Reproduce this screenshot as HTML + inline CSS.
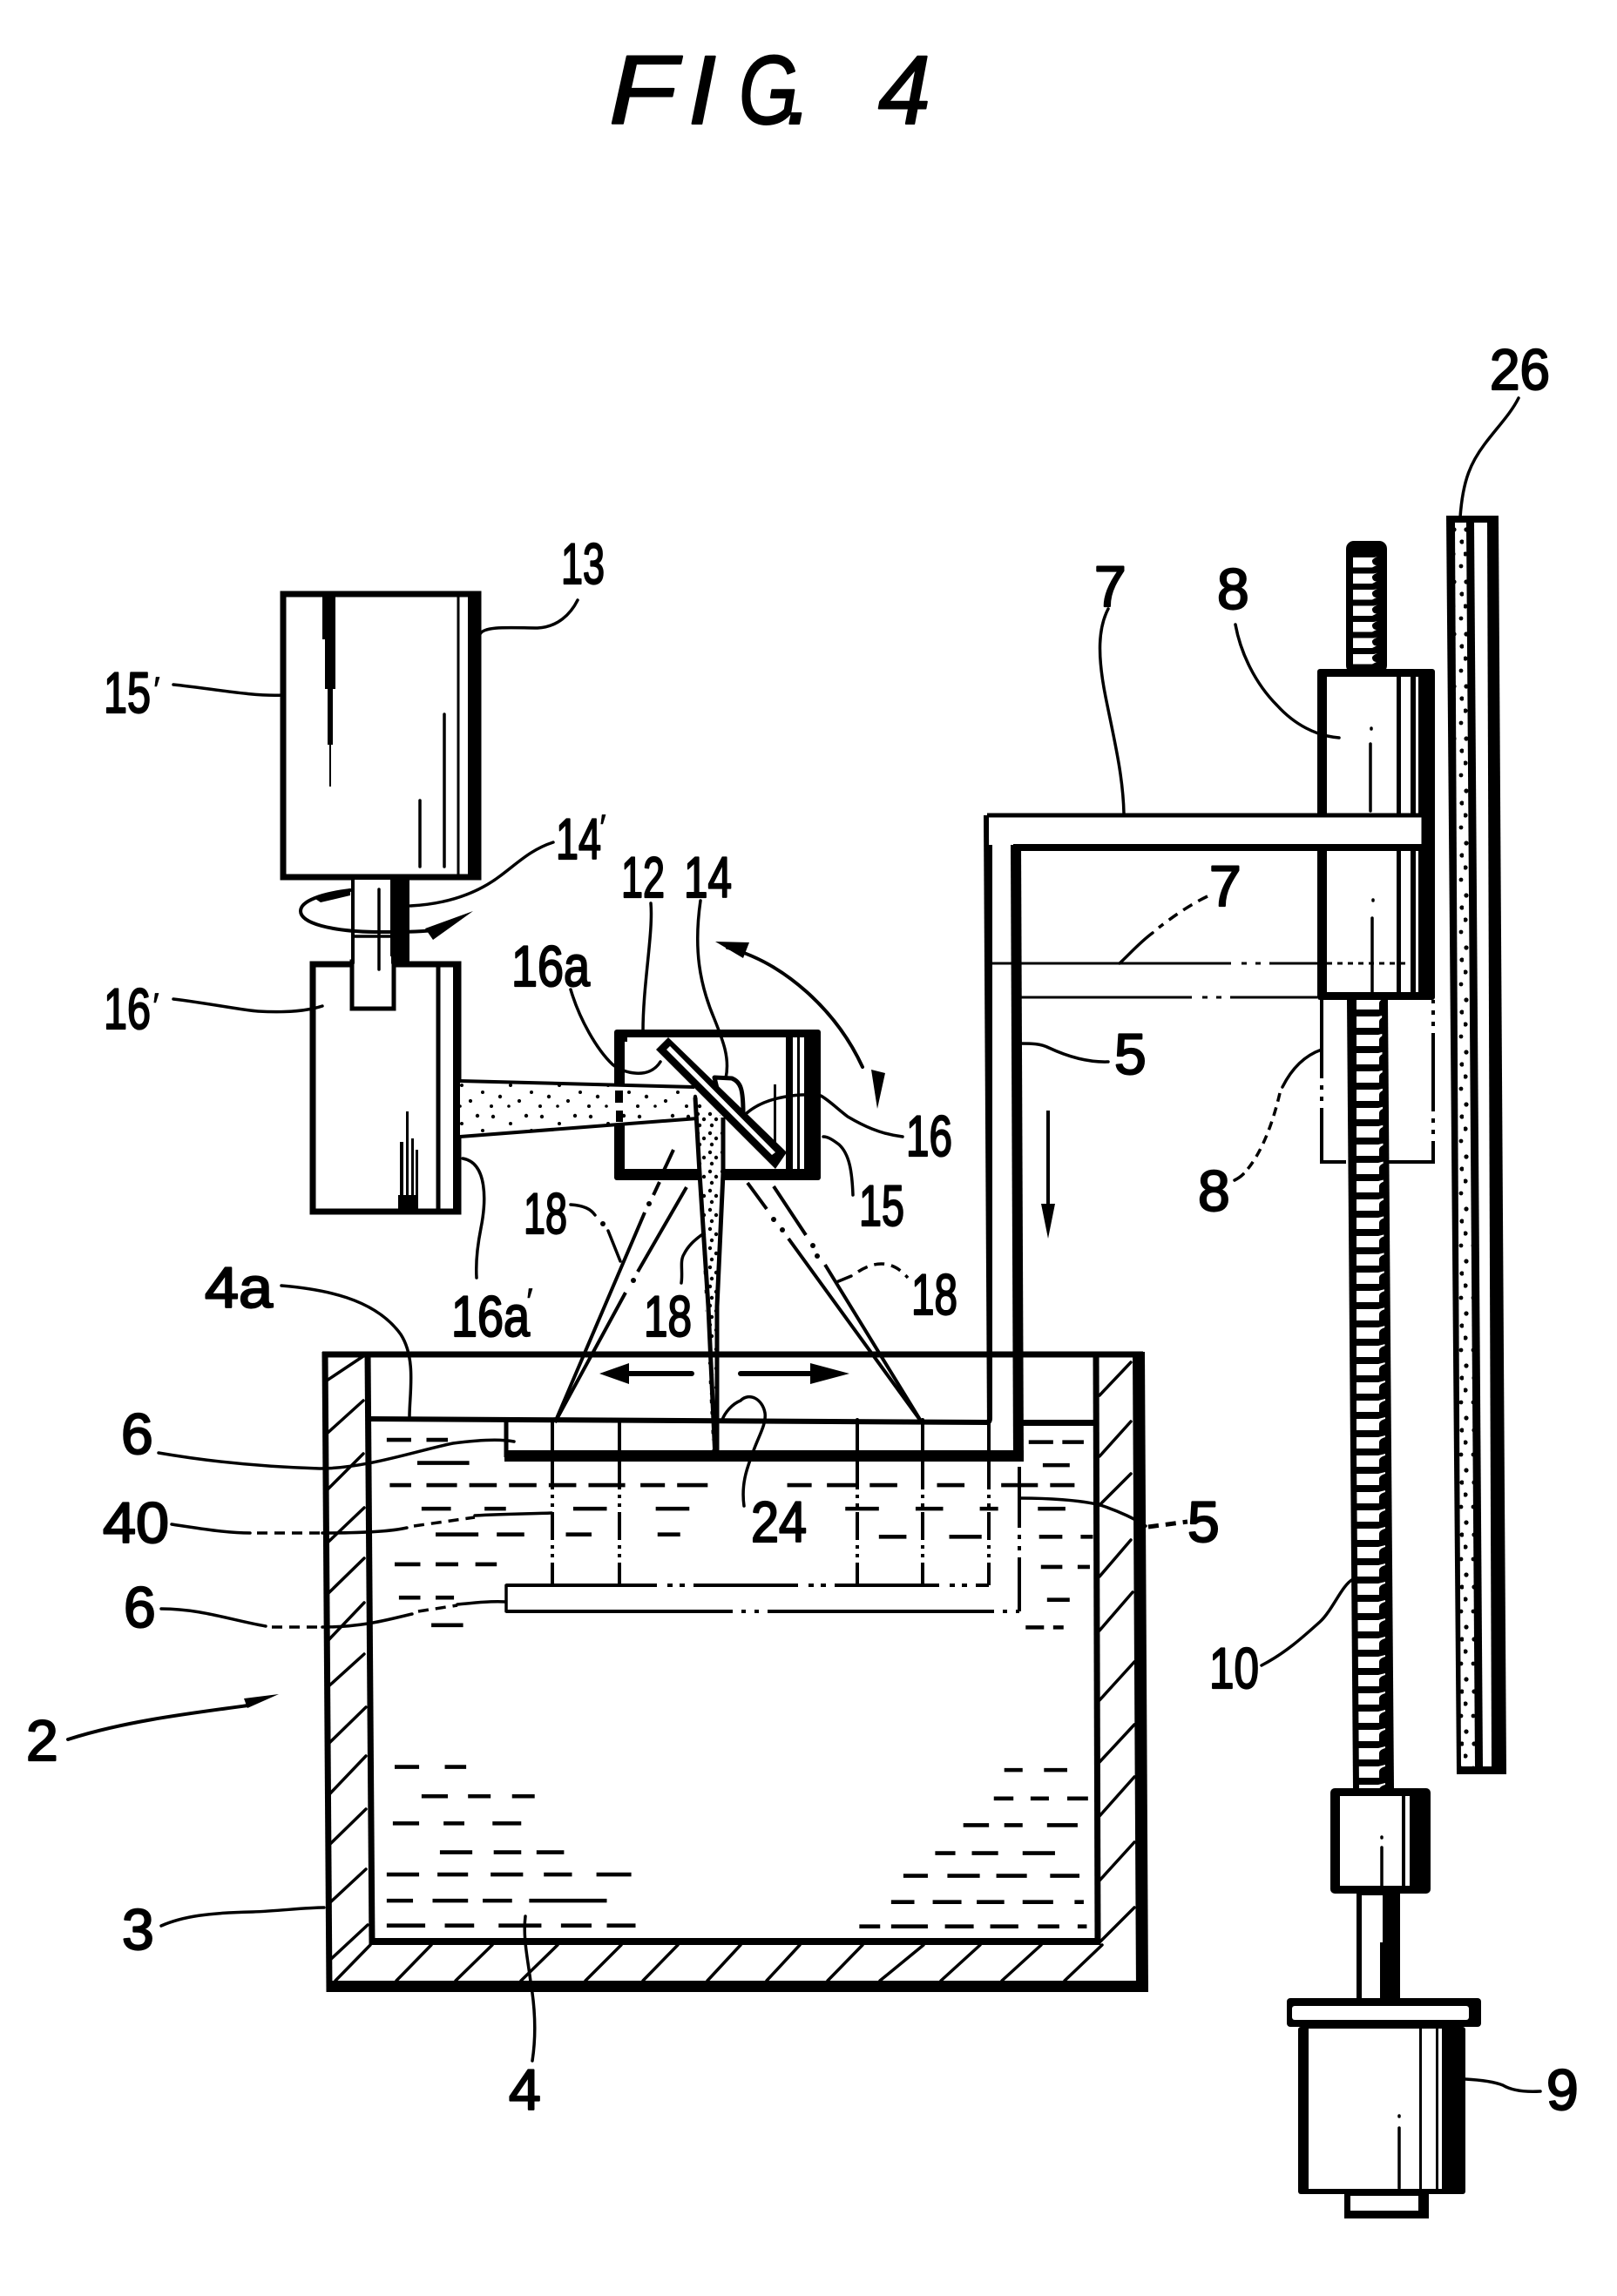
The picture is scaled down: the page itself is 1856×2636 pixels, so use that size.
<!DOCTYPE html>
<html><head><meta charset="utf-8"><title>FIG. 4</title>
<style>
html,body{margin:0;padding:0;background:#fff}
svg{display:block}
text{font-family:"Liberation Sans",sans-serif;font-size:66px;fill:#000;stroke:#000;stroke-width:2.2;stroke-linejoin:round}
.t{font-size:112px;font-style:italic;stroke-width:2}
.p{font-size:42px;stroke-width:.5}
.l{fill:none;stroke:#000;stroke-width:3.5;stroke-linecap:round;stroke-linejoin:round}
.m{fill:none;stroke:#000;stroke-width:6;stroke-linecap:round;stroke-linejoin:round}
.c{fill:none;stroke:#000;stroke-width:4;stroke-dasharray:70 10 5 10 5 10}
.d{fill:none;stroke:#000;stroke-width:3.5;stroke-dasharray:12 8}
.b{fill:#000;stroke:none}
.w{fill:#fff;stroke:none}
</style></head><body>
<svg xmlns="http://www.w3.org/2000/svg" width="1856" height="2636" viewBox="0 0 1856 2636">
<defs>
<pattern id="thr0" patternUnits="userSpaceOnUse" x="1553" y="639" width="60" height="18.5">
<rect width="60" height="18.5" fill="#000"/><path d="M0 1H24L28 0Q21 3 22 6Q23 10 27 10L22 12.5H0Z" fill="#fff"/>
</pattern>
<pattern id="thr" patternUnits="userSpaceOnUse" x="1557" y="640" width="60" height="21">
<rect width="60" height="21" fill="#000"/><path d="M0 2H25L33 0V2Q26 4 26 8V15H0Z" fill="#fff"/>
</pattern>
<pattern id="dots" patternUnits="userSpaceOnUse" width="56" height="44">
<rect width="56" height="44" fill="#fff"/>
<g fill="#000"><circle cx="6" cy="6" r="2.2"/><circle cx="26" cy="14" r="2"/><circle cx="44" cy="5" r="2.2"/><circle cx="14" cy="27" r="2.2"/><circle cx="36" cy="32" r="2.1"/><circle cx="50" cy="22" r="2"/><circle cx="4" cy="38" r="2"/><circle cx="24" cy="38" r="1.8"/></g>
</pattern>
<pattern id="dots2" patternUnits="userSpaceOnUse" width="14" height="60">
<rect width="14" height="60" fill="#fff"/>
<g fill="#000"><circle cx="3" cy="8" r="2.6"/><circle cx="12" cy="22" r="2.6"/><circle cx="2" cy="36" r="2.6"/><circle cx="11" cy="50" r="2.4"/></g>
</pattern>
<pattern id="dots3" patternUnits="userSpaceOnUse" width="14" height="22">
<rect width="14" height="22" fill="#fff"/>
<g fill="#000"><circle cx="3" cy="3" r="2.2"/><circle cx="10" cy="9" r="2.2"/><circle cx="5" cy="16" r="2.2"/></g>
</pattern>
</defs>

<!-- title -->
<text class="t" x="699" y="142" textLength="78" lengthAdjust="spacingAndGlyphs">F</text>
<text class="t" x="790" y="142" textLength="32" lengthAdjust="spacingAndGlyphs">I</text>
<text class="t" x="848" y="142" textLength="68" lengthAdjust="spacingAndGlyphs">G</text>
<text class="t" x="902" y="142">.</text>
<text class="t" x="1008" y="142" textLength="60" lengthAdjust="spacingAndGlyphs">4</text>

<!-- motor 13 -->
<rect x="325" y="682" width="224" height="325" fill="#fff" stroke="#000" stroke-width="7"/>
<rect class="b" x="537" y="680" width="14" height="328"/>
<path class="l" d="M526 682V1006" style="stroke-width:3"/>
<path class="b" d="M370 683H385V791H382V855H380V903H378V855H376V791H373V734H370Z"/>
<path class="l" d="M482 919V995M510 820V995"/>
<!-- shaft -->
<rect x="405" y="1008" width="63" height="96" fill="#fff" stroke="#000" stroke-width="4"/>
<rect class="b" x="448" y="1008" width="20" height="96"/>
<!-- box 16' -->
<rect x="359" y="1107" width="167" height="284" fill="#fff" stroke="#000" stroke-width="7"/>
<rect class="b" x="520" y="1104" width="8" height="290"/>
<path class="l" d="M503 1106V1388" style="stroke-width:5"/>
<path class="b" d="M459 1311h4v70h-4zM466 1276h3v105h-3zM472 1307h3v74h-3zM477 1320h3v61h-3zM457 1372h23v16h-23z"/>
<rect x="404" y="1104" width="48" height="54" fill="#fff" stroke="#000" stroke-width="5"/>
<rect class="w" x="407" y="1098" width="42" height="12"/>
<path class="l" d="M405 1075H448M435 1021V1113"/>
<!-- rotation arrow -->
<path class="m" d="M402 1022C370 1026 345 1034 345 1046C345 1060 380 1069 430 1070C460 1070 480 1070 497 1068" style="stroke-width:4"/>
<path class="b" d="M359 1030L402 1020V1028L368 1036ZM543 1046L497 1079L488 1066Z"/>

<!-- box 12 -->
<rect class="b" x="705" y="1182" width="237" height="173" rx="3"/>
<rect class="w" x="717" y="1191" width="206" height="151"/>
<path class="b" d="M902 1191h8v151h-8zM915 1191h3v151h-3zM888 1245h3v90h-3z"/>
<!-- beam -->
<path d="M650 1245" fill="none"/>
<path d="M528 1241L797 1248L827 1282L528 1305Z" fill="url(#dots)" stroke="none"/>
<path class="m" d="M528 1241L797 1248M528 1305L827 1282" style="stroke-width:4;stroke-linecap:butt"/>
<path class="b" d="M706 1252h9v14h-9zM707 1275h8v13h-8zM716 1190h4v6h-4z"/>
<!-- cone -->
<path d="M798 1260L830 1283L823 1675L818 1675Z" fill="url(#dots3)" stroke="none"/>
<path class="m" d="M798 1260L803 1347L813 1500L821 1675M830 1283V1347L823 1500L823 1675" style="stroke-width:5;stroke-linecap:butt"/>
<!-- mirror -->
<path d="M820 1237L840 1238C850 1242 853 1250 853 1277L826 1262Z" fill="#fff" stroke="#000" stroke-width="5" stroke-linejoin="round"/>
<path class="b" d="M753 1205L767 1191L903 1323L890 1342Z"/>
<path class="w" d="M765 1205L769 1201L890 1323L886 1326Z"/>
<path class="m" d="M753 1205Q758 1222 768 1226" style="stroke-width:0"/>

<!-- scan rays -->
<path class="m" d="M773 1320L760 1348M757 1357L750 1372M740 1392L637 1633" style="stroke-width:4;stroke-linecap:butt"/>
<path class="m" d="M788 1363L732 1460M718 1484L637 1633" style="stroke-width:4;stroke-linecap:butt"/>
<path class="m" d="M858 1358L880 1388M905 1422L1058 1633" style="stroke-width:4;stroke-linecap:butt"/>
<path class="m" d="M888 1362L925 1418M947 1452L1058 1633" style="stroke-width:4;stroke-linecap:butt"/>
<g fill="#000"><circle cx="745" cy="1382" r="3"/><circle cx="727" cy="1470" r="3"/><circle cx="888" cy="1400" r="3"/><circle cx="898" cy="1412" r="3"/><circle cx="933" cy="1430" r="3"/><circle cx="938" cy="1442" r="3"/></g>
<!-- small arrows -->
<path class="m" d="M710 1577H794M850 1577H930" style="stroke-width:6"/>
<path class="b" d="M688 1577L722 1565V1589ZM975 1577L930 1565V1589Z"/>

<!-- tank -->
<path class="m" d="M370 1555H1312" style="stroke-width:7;stroke-linecap:butt"/>
<path class="m" d="M373 1552L378 2287" style="stroke-width:7;stroke-linecap:butt"/>
<path class="m" d="M422 1552L427 2233" style="stroke-width:7;stroke-linecap:butt"/>
<path class="m" d="M1258 1552L1260 2233" style="stroke-width:7;stroke-linecap:butt"/>
<path class="b" d="M1300 1552H1314L1318 2287H1304Z"/>
<rect class="b" x="376" y="2274" width="942" height="13"/>
<rect class="b" x="424" y="2225" width="838" height="8"/>
<!-- hatching -->
<path class="l" d="M375 1585L417 1557M375 1646L417 1608M376 1710L417 1669M376 1771L418 1731M376 1830L418 1789M376 1884L418 1840M376 1937L418 1899M378 2001L420 1960M378 2060L420 2016M378 2118L420 2077M378 2185L420 2146M379 2250L422 2210"/>
<path class="l" d="M1262 1602L1298 1564M1262 1672L1298 1632M1262 1728L1298 1692M1262 1810L1298 1768M1262 1872L1300 1828M1262 1952L1302 1908M1262 2023L1302 1980M1262 2085L1302 2040M1262 2159L1302 2115M1262 2230L1302 2190"/>
<path class="l" d="M385 2274L425 2233M455 2274L495 2233M523 2274L565 2233M598 2274L640 2233M672 2274L713 2233M738 2274L778 2233M812 2274L850 2233M880 2274L918 2233M950 2274L990 2233M1010 2274L1060 2233M1080 2274L1125 2233M1150 2274L1195 2233M1222 2274L1265 2233"/>

<!-- level + platform + arm -->
<path class="m" d="M425 1629L1133 1633Q1136 1633 1136 1628V936" style="stroke-width:6;stroke-linecap:butt"/>
<rect class="b" x="1174" y="1630" width="84" height="7"/>
<path class="m" d="M581 1629V1673" style="stroke-width:5;stroke-linecap:butt"/>
<rect class="b" x="579" y="1665" width="596" height="13"/>
<path class="b" d="M1160 967H1172L1175 1678H1163Z"/>
<path class="l" d="M634 1630V1668M711 1630V1668M984 1630V1668M1059 1630V1668M1135 1630V1668" style="stroke-width:4"/>
<!-- phantom -->
<path class="c" style="stroke-dasharray:32 6 4 6 4 6" d="M634 1678V1820M711 1678V1820M984 1678V1820M1059 1678V1820M1135 1678V1820"/>
<path class="c" style="stroke-dasharray:120 12 6 8 6 10" d="M634 1820H1135M581 1820H634"/>
<path class="c" style="stroke-dasharray:260 10 5 10 5 10" d="M581 1850H1170"/>
<path class="l" d="M581 1820V1850"/>
<path class="c" style="stroke-dasharray:70 8 5 8 5 8" d="M1170 1684V1850"/>

<!-- liquid dashes -->
<g transform="translate(300,1500) scale(.7018,.5102)" fill="none" stroke="#000" stroke-width="9">
<path d="M205 300H245M270 300H305M255 352H340M210 402H245M270 402H320M340 402H385M405 402H450M470 402H515M535 402H595M620 402H660M680 402H730M860 402H900M925 402H975M995 402H1040M1105 402H1150M1210 402H1270M1290 402H1330M262 455H310M365 455H400M510 455H565M645 455H700M955 455H1010M1070 455H1115M1175 455H1205M1270 455H1315M285 513H355M385 513H430M498 513H540M648 513H685M1010 518H1055M1125 518H1178M1272 518H1310M1340 518H1360M218 580H260M285 580H322M350 580H385M1275 586H1310M1335 586H1355M225 655H260M285 655H315M1285 660H1322M278 717H330M1250 722H1280M1295 722H1312M1255 305H1295M1310 305H1345M1278 357H1322"/>
<path d="M218 1036H258M300 1036H335M262 1102H305M338 1102H375M410 1102H447M215 1163H258M298 1163H332M378 1163H425M292 1228H345M380 1228H425M450 1228H495M205 1278H258M288 1278H338M375 1278H428M462 1278H508M548 1278H605M205 1337H248M280 1337H338M362 1337H410M438 1337H565M205 1393H268M300 1393H348M388 1393H458M490 1393H540M565 1393H612"/>
<path d="M1215 1043H1245M1280 1043H1318M1198 1107H1230M1258 1107H1288M1318 1107H1352M1148 1167H1190M1215 1167H1245M1285 1167H1335M1102 1230H1135M1162 1230H1205M1245 1230H1298M1050 1281H1090M1122 1281H1175M1202 1281H1252M1290 1281H1338M1030 1340H1068M1098 1340H1145M1170 1340H1215M1245 1340H1295M1330 1340H1345M978 1395H1012M1030 1395H1090M1118 1395H1165M1192 1395H1238M1270 1395H1305M1335 1395H1350"/>
</g>

<!-- block 8 -->
<rect class="b" x="1512" y="768" width="135" height="380" rx="3"/>
<rect class="w" x="1523" y="777" width="80" height="362"/>
<rect class="w" x="1608" y="777" width="11" height="362"/>
<rect class="w" x="1625" y="777" width="3" height="362"/>
<path class="l" d="M1573 854V931M1575 1054V1141M1574 836V837M1576 1033V1034"/>
<!-- arm 7 -->
<rect class="w" x="1135" y="938" width="498" height="32"/>
<path class="m" d="M1133 936H1633" style="stroke-width:5;stroke-linecap:butt"/>
<path class="m" d="M1163 973H1633" style="stroke-width:8;stroke-linecap:butt"/>
<path class="m" d="M1633 934V977" style="stroke-width:3;stroke-linecap:butt"/>
<path class="b" d="M1129 936H1135L1137 1640H1133Z"/>
<!-- phantom arm -->
<path class="c" style="stroke-width:3;stroke-dasharray:280 12 6 10 6 10" d="M1133 1106H1512"/>
<path class="c" style="stroke-width:3;stroke-dasharray:200 12 6 10 6 10" d="M1168 1145H1512"/>
<path class="d" style="stroke-dasharray:6 6;stroke-width:3" d="M1523 1106H1628"/>
<!-- phantom 8 -->
<path class="c" style="stroke-dasharray:90 8 5 8 5 8" d="M1517 1148V1334H1645V1148"/>

<!-- screw -->
<rect class="b" x="1545" y="621" width="47" height="152" rx="9"/>
<rect x="1553" y="639" width="30" height="126" fill="url(#thr0)"/>
<path class="b" d="M1546 1148H1593L1600 2053H1553Z"/>
<path d="M1553 1148H1586L1594 2053H1560Z" fill="url(#thr)"/>

<!-- nut -->
<rect class="b" x="1527" y="2053" width="115" height="121" rx="5"/>
<path class="w" d="M1538 2062H1609V2165H1538Z"/>
<path class="w" d="M1613 2062H1618V2165H1613Z"/>
<path class="l" d="M1586 2121V2165M1586 2109V2110"/>
<!-- lower shaft -->
<rect class="b" x="1557" y="2174" width="50" height="120"/>
<path class="w" d="M1563 2176H1587V2230H1584V2294H1563Z"/>
<!-- flange / motor 9 -->
<rect class="b" x="1477" y="2294" width="223" height="33" rx="4"/>
<rect class="w" x="1483" y="2303" width="203" height="16" rx="3"/>
<rect class="b" x="1490" y="2327" width="192" height="192" rx="3"/>
<rect class="w" x="1502" y="2329" width="127" height="184"/>
<rect class="w" x="1632" y="2329" width="16" height="184"/>
<rect class="w" x="1651" y="2329" width="4" height="184"/>
<path class="l" d="M1606 2443V2512M1606 2429V2430"/>
<!-- foot -->
<rect class="b" x="1543" y="2519" width="97" height="28"/>
<rect class="w" x="1550" y="2521" width="78" height="17"/>

<!-- bar 26 -->
<path class="b" d="M1660 592H1720L1729 2037H1672Z"/>
<path d="M1670 600H1683L1693 2028H1677Z" fill="url(#dots2)"/>
<path class="w" d="M1692 600H1707L1712 2028H1702Z"/>

<!-- leaders -->
<path class="l" d="M551 728C556 718 590 721 617 721C640 720 655 705 663 689"/>
<path class="l" d="M199 786C240 790 290 800 325 798"/>
<path class="l" d="M199 1147C240 1152 280 1160 296 1161C330 1163 355 1160 370 1155"/>
<path class="l" d="M635 967C610 975 595 990 575 1005C545 1028 510 1038 471 1040"/>
<path class="l" d="M747 1037C750 1070 738 1130 738 1184"/>
<path class="l" d="M804 1034C796 1090 803 1130 820 1170C830 1195 838 1215 833 1238"/>
<path class="l" d="M655 1136C665 1170 685 1205 703 1222C715 1232 745 1240 758 1219"/>
<path class="l" d="M1036 1305C1010 1302 990 1292 973 1282C960 1272 950 1262 942 1258C920 1255 880 1258 857 1278"/>
<path class="l" d="M979 1372C978 1345 975 1325 963 1314C955 1308 950 1305 945 1305"/>
<path class="l" d="M531 1330C560 1335 558 1380 552 1410C548 1430 546 1450 547 1467"/>
<path class="m" d="M835 1088C900 1105 960 1160 990 1225" style="stroke-width:4"/>
<path class="b" d="M821 1081L860 1082L853 1100ZM1007 1273L1000 1228L1016 1232Z"/>
<path class="l" d="M655 1383C670 1384 678 1388 683 1395"/>
<path class="l" d="M698 1413L712 1448"/>
<circle cx="692" cy="1405" r="3"/>
<path class="l" d="M782 1473C784 1460 780 1448 785 1440C790 1430 797 1424 805 1418"/>
<path class="l" d="M960 1472L977 1465"/>
<path class="d" d="M985 1460C1005 1447 1025 1447 1042 1467"/>
<path class="l" d="M323 1476C370 1480 430 1490 460 1532C478 1560 470 1600 470 1626"/>
<path class="l" d="M182 1668C240 1678 300 1684 367 1686C420 1686 480 1665 520 1657C550 1653 575 1652 590 1655"/>
<path class="l" d="M197 1750C230 1755 260 1760 287 1760"/>
<path class="d" d="M295 1760H370"/>
<path class="l" d="M370 1760C420 1760 450 1758 467 1754"/>
<path class="d" d="M475 1752L545 1742"/>
<path class="l" d="M545 1740C580 1738 610 1738 633 1737"/>
<path class="l" d="M185 1847C230 1847 265 1860 305 1867"/>
<path class="d" d="M312 1868H370"/>
<path class="l" d="M370 1868C420 1868 450 1858 473 1853"/>
<path class="d" d="M480 1850L525 1843"/>
<path class="l" d="M525 1842C545 1840 565 1838 580 1839"/>
<path class="l" d="M78 1997C140 1977 210 1968 285 1958" style="stroke-width:4"/>
<path class="b" d="M280 1950L320 1945L284 1961Z"/>
<path class="l" d="M185 2211C210 2200 240 2196 290 2195C320 2194 350 2190 372 2190"/>
<path class="l" d="M603 2200C600 2225 606 2250 609 2275C615 2310 615 2340 611 2366"/>
<path class="l" d="M854 1729C850 1700 860 1680 864 1668C870 1650 880 1635 878 1622C875 1606 860 1598 850 1608C840 1612 832 1622 829 1630"/>
<path class="l" d="M1743 457C1734 475 1719 490 1704 510C1689 530 1679 550 1676 594"/>
<path class="l" d="M1272 699C1261 720 1259 750 1269 800C1279 850 1289 890 1290 934"/>
<path class="l" d="M1418 717C1424 750 1441 785 1466 810C1486 832 1511 845 1537 847"/>
<path class="d" d="M1386 1029C1363 1040 1343 1055 1330 1065"/>
<path class="l" d="M1323 1071C1308 1082 1296 1096 1285 1106"/>
<path class="l" d="M1272 1219C1244 1220 1219 1210 1204 1203C1194 1198 1184 1198 1171 1198"/>
<path class="l" d="M1517 1205C1497 1212 1482 1228 1472 1248"/>
<path class="d" style="stroke-dasharray:10 7" d="M1469 1255C1462 1285 1449 1325 1427 1348"/>
<path class="l" d="M1427 1348C1423 1352 1419 1354 1417 1355"/>
<path class="l" d="M1172 1720C1200 1720 1240 1722 1263 1728C1285 1735 1305 1745 1315 1752"/>
<path class="d" d="M1318 1753L1363 1747" style="stroke-width:5"/>
<path class="l" d="M1448 1912C1475 1898 1495 1880 1515 1862C1530 1848 1540 1820 1553 1813"/>
<path class="l" d="M1682 2387C1700 2388 1715 2390 1725 2394C1735 2400 1750 2402 1768 2401"/>
<path class="m" d="M1203 1275V1390" style="stroke-width:4;stroke-linecap:butt"/>
<path class="b" d="M1195 1382H1211L1203 1422Z"/>

<!-- labels -->
<g>
<text x="644" y="670" textLength="50" lengthAdjust="spacingAndGlyphs">13</text>
<text x="119" y="818" textLength="54" lengthAdjust="spacingAndGlyphs">15</text>
<text class="p" x="176" y="806">′</text>
<text x="638" y="986" textLength="52" lengthAdjust="spacingAndGlyphs">14</text>
<text class="p" x="688" y="964">′</text>
<text x="713" y="1030" textLength="50" lengthAdjust="spacingAndGlyphs">12</text>
<text x="785" y="1030" textLength="55" lengthAdjust="spacingAndGlyphs">14</text>
<text x="587" y="1132" textLength="90" lengthAdjust="spacingAndGlyphs">16a</text>
<text x="119" y="1181" textLength="54" lengthAdjust="spacingAndGlyphs">16</text>
<text class="p" x="175" y="1169">′</text>
<text x="1040" y="1327" textLength="53" lengthAdjust="spacingAndGlyphs">16</text>
<text x="986" y="1407" textLength="52" lengthAdjust="spacingAndGlyphs">15</text>
<text x="601" y="1416" textLength="50" lengthAdjust="spacingAndGlyphs">18</text>
<text x="739" y="1534" textLength="55" lengthAdjust="spacingAndGlyphs">18</text>
<text x="1046" y="1509" textLength="53" lengthAdjust="spacingAndGlyphs">18</text>
<text x="518" y="1534" textLength="90" lengthAdjust="spacingAndGlyphs">16a</text>
<text class="p" x="604" y="1508">′</text>
<text x="235" y="1501" textLength="78" lengthAdjust="spacingAndGlyphs">4a</text>
<text x="139" y="1669" textLength="38">6</text>
<text x="118" y="1771" textLength="76" lengthAdjust="spacingAndGlyphs">40</text>
<text x="142" y="1868" textLength="38">6</text>
<text x="30" y="2021" textLength="36">2</text>
<text x="140" y="2238" textLength="36">3</text>
<text x="584" y="2422" textLength="38">4</text>
<text x="862" y="1770" textLength="64" lengthAdjust="spacingAndGlyphs">24</text>
<text x="1363" y="1770" textLength="36">5</text>
<text x="1710" y="447" textLength="69" lengthAdjust="spacingAndGlyphs">26</text>
<text x="1256" y="696" textLength="33">7</text>
<text x="1397" y="699" textLength="38">8</text>
<text x="1388" y="1040" textLength="35">7</text>
<text x="1279" y="1233" textLength="34">5</text>
<text x="1375" y="1390" textLength="38">8</text>
<text x="1388" y="1938" textLength="57" lengthAdjust="spacingAndGlyphs">10</text>
<text x="1775" y="2422" textLength="35">9</text>
</g>
</svg>
</body></html>
